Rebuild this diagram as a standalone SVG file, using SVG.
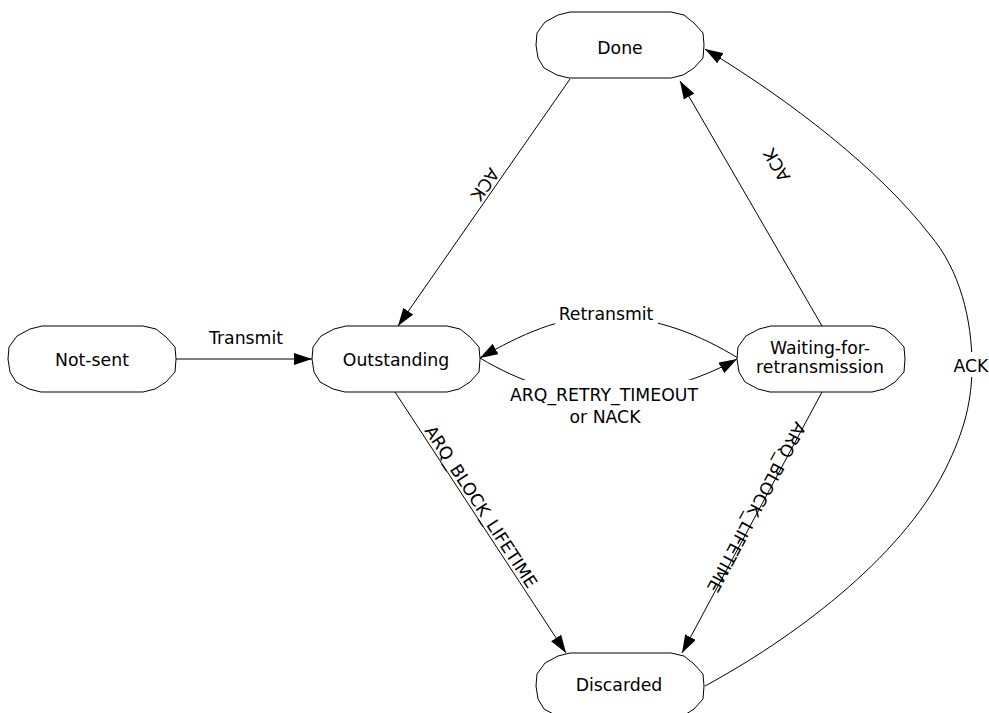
<svg xmlns="http://www.w3.org/2000/svg" xmlns:xlink="http://www.w3.org/1999/xlink" width="989" height="713" viewBox="0 0 989 713">
<style>
.node{fill:#fff;stroke:#000;stroke-width:1}
.edge{fill:none;stroke:#000;stroke-width:1}
text{font-family:"DejaVu Sans",Verdana,sans-serif;font-size:17.3px;fill:#000}
.c{text-anchor:middle}
.bg{fill:#fff;stroke:none}
</style>
<defs>
<path id="shape" d="M34,0 L135,0 L148,3 L158,11 L167,21 L168,33 L167,46 L158,56 L147,63 L135,66 L33,66 L21,63 L8,56 L2,46 L0,33 L1,21 L9,10 L22,3 Z"/>
<marker id="ah" markerUnits="userSpaceOnUse" markerWidth="18" markerHeight="12" refX="18" refY="6" orient="auto"><path d="M0,0 L18,6 L0,12 z" fill="#000"/></marker>
</defs>
<g id="connectors">
<path class="edge" d="M176,359 L312,359" marker-end="url(#ah)"/>
<path class="edge" d="M570,79 L398,326" marker-end="url(#ah)"/>
<path class="edge" d="M822,326 L680,81" marker-end="url(#ah)"/>
<path class="edge" d="M395,392 L566,653" marker-end="url(#ah)"/>
<path class="edge" d="M822,392 L682,653" marker-end="url(#ah)"/>
<path class="edge" d="M738,358 C700,335 660,318 606,316 C560,316 520,335 480,358" marker-end="url(#ah)"/>
<path class="edge" d="M480,358 C520,382 560,395 604,395 C650,395 700,380 737,359" marker-end="url(#ah)"/>
<path class="edge" d="M705,686 C790,640 900,560 945,470 C965,430 972,400 972,365 C972,320 960,270 930,235 C880,170 790,100 705,49" marker-end="url(#ah)"/>
</g>
<g id="labels">
<text class="c" x="246" y="344">Transmit</text>
<rect class="bg" x="555" y="304" width="103" height="22"/>
<text class="c" x="606" y="320">Retransmit</text>
<rect class="bg" x="509" y="380" width="193" height="26"/>
<text class="c" x="604" y="401">ARQ_RETRY_TIMEOUT</text>
<text class="c" x="605" y="423">or NACK</text>
<rect class="bg" x="952" y="352" width="37" height="25"/>
<text class="c" x="971" y="372">ACK</text>
<text class="c" transform="translate(480,181) rotate(124.85)">ACK</text>
<text class="c" transform="translate(782,162) rotate(-120.2)">ACK</text>
<text class="c" transform="translate(476,510) rotate(56.8)">ARQ_BLOCK_LIFETIME</text>
<text class="c" transform="translate(751,504.4) rotate(118.1)">ARQ_BLOCK_LIFETIME</text>
</g>
<g id="node-done"><use xlink:href="#shape" class="node" x="536" y="12"/><text class="c" x="620" y="53.5">Done</text></g>
<g id="node-notsent"><use xlink:href="#shape" class="node" x="8" y="326"/><text class="c" x="92" y="366">Not-sent</text></g>
<g id="node-outstanding"><use xlink:href="#shape" class="node" x="312" y="326"/><text class="c" x="396" y="366">Outstanding</text></g>
<g id="node-waiting"><use xlink:href="#shape" class="node" x="737" y="326"/><text class="c" x="820" y="354">Waiting-for-</text><text class="c" x="820" y="373">retransmission</text></g>
<g id="node-discarded"><use xlink:href="#shape" class="node" x="536" y="653"/><text class="c" x="619" y="691">Discarded</text></g>
</svg>
